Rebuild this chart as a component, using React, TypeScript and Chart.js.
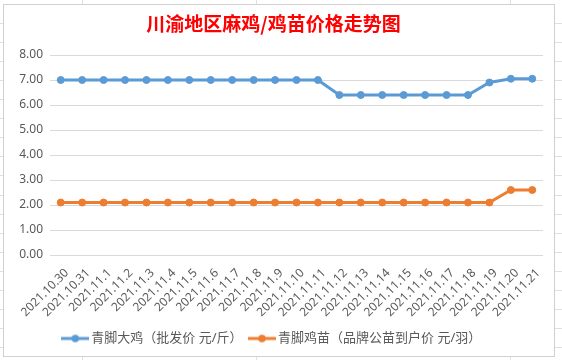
import React, { useEffect, useRef } from "react";
import { Chart, registerables } from "chart.js";
Chart.register(...registerables);

const titleText = "川渝地区麻鸡/鸡苗价格走势图";
const categories = [
  "2021.10.30", "2021.10.31", "2021.11.1", "2021.11.2", "2021.11.3", "2021.11.4",
  "2021.11.5", "2021.11.6", "2021.11.7", "2021.11.8", "2021.11.9", "2021.11.10",
  "2021.11.11", "2021.11.12", "2021.11.13", "2021.11.14", "2021.11.15", "2021.11.16",
  "2021.11.17", "2021.11.18", "2021.11.19", "2021.11.20", "2021.11.21",
];
const seriesNames = ["青脚大鸡（批发价 元/斤）", "青脚鸡苗（品牌公苗到户价 元/羽）"];
const chickenPrices = [
  7.0, 7.0, 7.0, 7.0, 7.0, 7.0, 7.0, 7.0, 7.0, 7.0, 7.0, 7.0, 7.0,
  6.4, 6.4, 6.4, 6.4, 6.4, 6.4, 6.4, 6.9, 7.05, 7.05,
];
const chickPrices = [
  2.1, 2.1, 2.1, 2.1, 2.1, 2.1, 2.1, 2.1, 2.1, 2.1, 2.1, 2.1, 2.1,
  2.1, 2.1, 2.1, 2.1, 2.1, 2.1, 2.1, 2.1, 2.6, 2.6,
];
const yMin = 0;
const yMax = 8;
const yStep = 1;

const BLUE = "#5B9BD5";
const ORANGE = "#ED7D31";
const TEXT = "#595959";
const FONT = '"Noto Sans", "Noto Sans CJK SC", sans-serif';

function makeIcon(color: string) {
  const c = document.createElement("canvas");
  c.width = 28;
  c.height = 10;
  const ctx = c.getContext("2d")!;
  ctx.strokeStyle = color;
  ctx.lineWidth = 3;
  ctx.beginPath();
  ctx.moveTo(0, 5);
  ctx.lineTo(28, 5);
  ctx.stroke();
  ctx.fillStyle = color;
  ctx.beginPath();
  ctx.arc(14, 5, 3.8, 0, Math.PI * 2);
  ctx.fill();
  return c;
}

export default function App() {
  const ref = useRef<HTMLCanvasElement>(null);
  useEffect(() => {
    const icons = [makeIcon(BLUE), makeIcon(ORANGE)];
    const chart = new Chart(ref.current!, {
      type: "line",
      data: {
        labels: categories,
        datasets: [
          {
            label: seriesNames[0],
            data: chickenPrices,
            borderColor: BLUE,
            backgroundColor: BLUE,
            pointBackgroundColor: BLUE,
            pointBorderColor: BLUE,
            borderWidth: 3,
            pointRadius: 3.5,
            pointBorderWidth: 1,
            tension: 0,
          },
          {
            label: seriesNames[1],
            data: chickPrices,
            borderColor: ORANGE,
            backgroundColor: ORANGE,
            pointBackgroundColor: ORANGE,
            pointBorderColor: ORANGE,
            borderWidth: 3,
            pointRadius: 3.5,
            pointBorderWidth: 1,
            tension: 0,
          },
        ],
      },
      options: {
        responsive: false,
        animation: false,
        devicePixelRatio: 1,
        layout: { padding: { left: 0, right: 11, top: 0, bottom: 1 } },
        plugins: {
          tooltip: { enabled: false },
          title: {
            display: true,
            text: titleText,
            color: "#FF0000",
            font: { family: '"Noto Sans CJK SC", serif', size: 19, weight: "bold" },
            padding: { top: 7.6, bottom: 19.6 },
          },
          legend: {
            display: true,
            position: "bottom",
            labels: {
              color: TEXT,
              font: { family: FONT, size: 13 },
              padding: 10,
              usePointStyle: true,
              pointStyleWidth: 19,
              generateLabels: (c: any) => {
                const items = (Chart.defaults.plugins.legend.labels as any).generateLabels(c);
                items.forEach((it: any, i: number) => {
                  it.pointStyle = icons[i];
                });
                return items;
              },
            },
          },
        },
        scales: {
          x: {
            offset: true,
            grid: { display: false, drawTicks: false },
            border: { display: false },
            ticks: {
              color: TEXT,
              font: { family: FONT, size: 12 },
              autoSkip: false,
              maxRotation: 45,
              minRotation: 45,
              padding: 11,
              labelOffset: 6,
            },
            afterFit: (s: any) => {
              s.height = 67;
            },
          },
          y: {
            min: yMin,
            max: yMax,
            grid: { color: "#D9D9D9", drawTicks: false, lineWidth: 1 },
            border: { display: false },
            ticks: {
              stepSize: yStep,
              color: TEXT,
              font: { family: FONT, size: 12 },
              padding: 7,
              callback: (v: any) => Number(v).toFixed(2),
            },
            afterFit: (s: any) => {
              s.width = 46;
            },
          },
        },
      },
    } as any);
    return () => chart.destroy();
  }, []);

  const hLines = [];
  for (let i = 0; i < 18; i++) {
    hLines.push(
      <div key={"h" + i} style={{ position: "absolute", left: 0, width: 562, top: Math.round(23 + i * 19.06), height: 1, background: "#E0E0E0" }} />
    );
  }
  const vLines = [82, 256, 510].map((x) => (
    <div key={"v" + x} style={{ position: "absolute", top: 0, height: 360, left: x, width: 1, background: "#E0E0E0" }} />
  ));

  return (
    <div style={{ position: "fixed", left: 0, top: 0, width: 562, height: 360, background: "#fff", overflow: "hidden" }}>
      {hLines}
      {vLines}
      <div style={{ position: "absolute", left: 3, top: 4, width: 550, height: 351, border: "1px solid #D0D0D0", background: "#fff" }}>
        <canvas ref={ref} width={550} height={351} style={{ display: "block" }} />
      </div>
    </div>
  );
}
